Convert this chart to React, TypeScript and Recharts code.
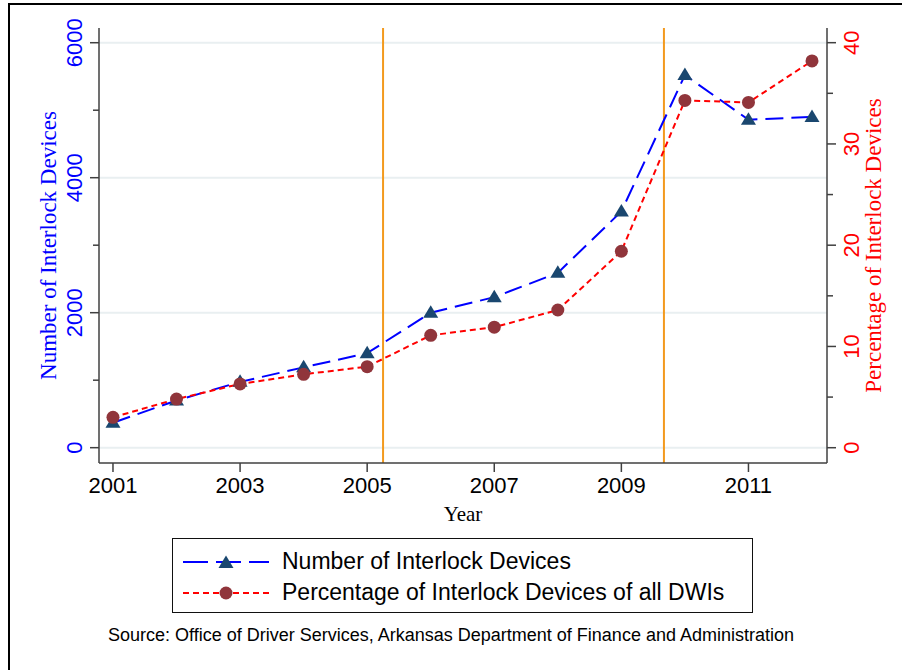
import React from 'react'
import { LineChart, Line, XAxis, YAxis, ReferenceLine, Label } from 'recharts'

// interlock devices installed per year, and their share of all DWIs (%)
const years = [2001, 2002, 2003, 2004, 2005, 2006, 2007, 2008, 2009, 2010, 2011, 2012]
const devices = [370, 700, 975, 1190, 1400, 2000, 2230, 2590, 3500, 5520, 4860, 4900]
const percentShare = [3.0, 4.8, 6.3, 7.25, 8.0, 11.1, 11.9, 13.6, 19.4, 34.3, 34.1, 38.2]

const yearTicks = [2001, 2003, 2005, 2007, 2009, 2011]
const deviceTicks = [0, 1000, 2000, 3000, 4000, 5000, 6000]
const percentTicks = [0, 5, 10, 15, 20, 25, 30, 35, 40]
const gridValues = [0, 2000, 4000, 6000]
const lawChanges = [2005.25, 2009.67]

const data = years.map((year, i) => ({
  year,
  devices: devices[i],
  percent: percentShare[i],
}))

const SANS = '"Liberation Sans", Arial, Helvetica, sans-serif'
const SERIF = '"Liberation Serif", "Times New Roman", serif'
const AXIS = '#404040'
const BLUE = '#0000ff'
const RED = '#ff0000'
const NAVY = '#1a476f'
const MAROON = '#90353b'

const LeftTick = (props: any) => {
  const { x, y, payload } = props
  const major = payload.value % 2000 === 0
  const tx = x - 17
  return (
    <g>
      <line x1={x - (major ? 9 : 6)} x2={x} y1={y} y2={y} stroke={AXIS} strokeWidth={1.5} />
      {major && (
        <text x={tx} y={y} transform={`rotate(-90 ${tx} ${y})`} textAnchor="middle"
          fontSize={22} fill={BLUE} fontFamily={SANS}>{payload.value}</text>
      )}
    </g>
  )
}

const RightTick = (props: any) => {
  const { x, y, payload } = props
  const major = payload.value % 10 === 0
  const tx = x + 32
  return (
    <g>
      <line x1={x} x2={x + (major ? 9 : 6)} y1={y} y2={y} stroke={AXIS} strokeWidth={1.5} />
      {major && (
        <text x={tx} y={y} transform={`rotate(-90 ${tx} ${y})`} textAnchor="middle"
          fontSize={22} fill={RED} fontFamily={SANS}>{payload.value}</text>
      )}
    </g>
  )
}

const triangleDot = (props: any) => {
  const { cx, cy, index } = props
  return (
    <path key={`tri-${index}`} fill={NAVY}
      d={`M${cx},${cy - 7.5} L${cx + 7.5},${cy + 5} L${cx - 7.5},${cy + 5} Z`} />
  )
}

const circleDot = (props: any) => {
  const { cx, cy, index } = props
  return <circle key={`dot-${index}`} cx={cx} cy={cy} r={6.5} fill={MAROON} />
}

const yearLabel = (props: any) => {
  const vb = props.viewBox
  return (
    <text x={vb.x + vb.width / 2} y={vb.y + 58} textAnchor="middle" fontSize={21}
      fontFamily={SERIF} fill="#000">Year</text>
  )
}

const leftTitle = (props: any) => {
  const vb = props.viewBox
  const x = vb.x + 56
  const y = vb.y + vb.height / 2
  return (
    <text x={x} y={y} transform={`rotate(-90 ${x} ${y})`} textAnchor="middle" fontSize={23}
      fontFamily={SERIF} fill={BLUE}>Number of Interlock Devices</text>
  )
}

const rightTitle = (props: any) => {
  const vb = props.viewBox
  const x = vb.x + 54
  const y = vb.y + vb.height / 2
  return (
    <text x={x} y={y} transform={`rotate(-90 ${x} ${y})`} textAnchor="middle" fontSize={23}
      fontFamily={SERIF} fill={RED}>Percentage of Interlock Devices</text>
  )
}

function LegendBox() {
  const row = { display: 'flex', alignItems: 'center', height: 31 } as React.CSSProperties
  const text = { fontFamily: SANS, fontSize: 23, color: '#000', marginLeft: 13 }
  return (
    <div style={{
      position: 'absolute', left: 172, top: 538, width: 581, height: 75,
      border: '1px solid #111', boxSizing: 'border-box', paddingTop: 7, paddingLeft: 10,
    }}>
      <div style={row}>
        <svg width={86} height={20}>
          <line x1={0} x2={86} y1={10} y2={10} stroke={BLUE} strokeWidth={2} strokeDasharray="25 8" />
          {triangleDot({ cx: 43, cy: 11, index: 0 })}
        </svg>
        <span style={text}>Number of Interlock Devices</span>
      </div>
      <div style={row}>
        <svg width={86} height={20}>
          <line x1={0} x2={86} y1={10} y2={10} stroke={RED} strokeWidth={2} strokeDasharray="6 4" />
          {circleDot({ cx: 43, cy: 10, index: 0 })}
        </svg>
        <span style={text}>Percentage of Interlock Devices of all DWIs</span>
      </div>
    </div>
  )
}

export default function App() {
  return (
    <div style={{ position: 'absolute', left: 0, top: 0, width: 902, height: 670, background: '#fff', overflow: 'hidden' }}>
      <div style={{
        position: 'absolute', left: 8, top: 3, width: 920, height: 700,
        borderTop: '2px solid #000', borderLeft: '2px solid #000',
      }} />
      <LineChart width={902} height={670} data={data}
        margin={{ top: 28, right: 0, bottom: 147, left: 0 }}>
        <XAxis dataKey="year" type="number" domain={[2000.78, 2012.236]} allowDataOverflow
          ticks={yearTicks} tickSize={9} tickMargin={5} height={60}
          stroke={AXIS} strokeWidth={1.5}
          tick={{ fontSize: 22, fill: '#000', fontFamily: SANS }}
          tickLine={{ stroke: AXIS, strokeWidth: 1.5 }}>
          <Label content={yearLabel} />
        </XAxis>
        <YAxis yAxisId="left" orientation="left" width={99} domain={[-227, 6218]} allowDataOverflow
          ticks={deviceTicks} tickSize={0} tickMargin={0} tick={<LeftTick />}
          stroke={AXIS} strokeWidth={1.5} tickLine={false}>
          <Label content={leftTitle} />
        </YAxis>
        <YAxis yAxisId="right" orientation="right" width={75} domain={[-1.51, 41.45]} allowDataOverflow
          ticks={percentTicks} tickSize={0} tickMargin={0} tick={<RightTick />}
          stroke={AXIS} strokeWidth={1.5} tickLine={false}>
          <Label content={rightTitle} />
        </YAxis>
        {gridValues.map((v) => (
          <ReferenceLine key={`g-${v}`} yAxisId="left" y={v} stroke="#e9eff1" strokeWidth={2} />
        ))}
        {lawChanges.map((v) => (
          <ReferenceLine key={`law-${v}`} yAxisId="left" x={v} stroke="#f39a1e" strokeWidth={2} />
        ))}
        <Line yAxisId="left" dataKey="devices" type="linear" stroke={BLUE} strokeWidth={2}
          strokeDasharray="18 8" dot={triangleDot} activeDot={false} isAnimationActive={false} />
        <Line yAxisId="right" dataKey="percent" type="linear" stroke={RED} strokeWidth={2}
          strokeDasharray="6 4" dot={circleDot} activeDot={false} isAnimationActive={false} />
      </LineChart>
      <LegendBox />
      <div style={{
        position: 'absolute', left: 0, top: 624, width: 902, textAlign: 'center',
        fontFamily: SANS, fontSize: 18, lineHeight: '22px', color: '#000',
      }}>
        Source: Office of Driver Services, Arkansas Department of Finance and Administration
      </div>
    </div>
  )
}
